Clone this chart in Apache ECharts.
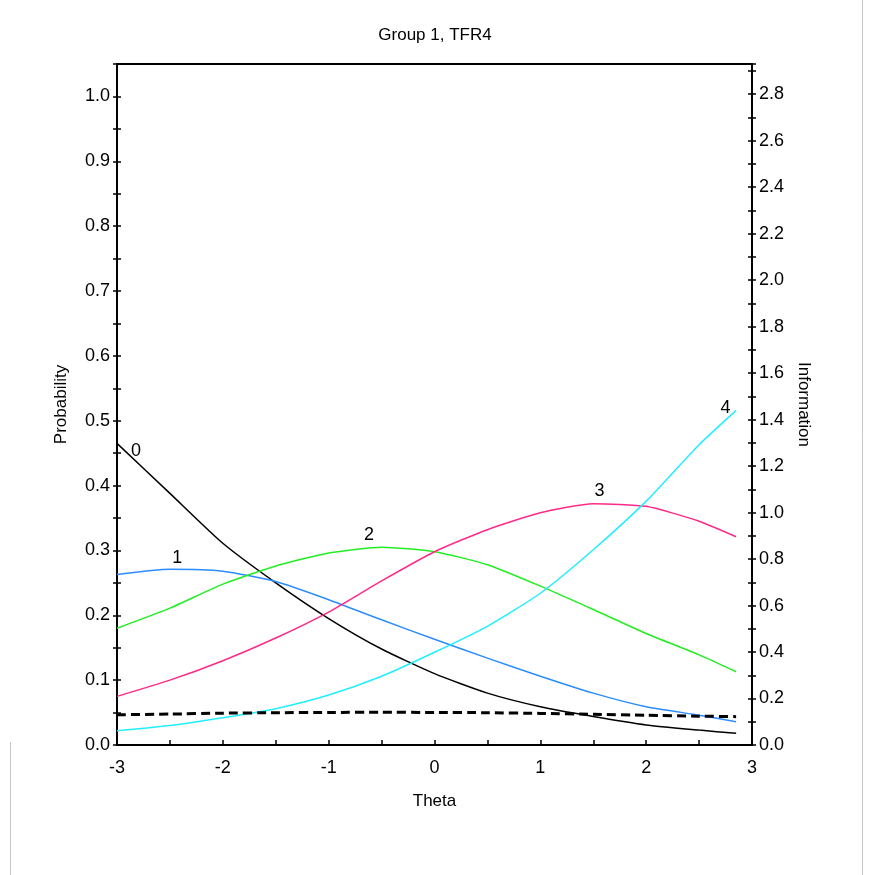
<!DOCTYPE html>
<html>
<head>
<meta charset="utf-8">
<script src="https://cdn.jsdelivr.net/npm/echarts@6/dist/echarts.min.js"></script>
<style>
  html, body { margin: 0; padding: 0; background: #fff; }
  #chart { width: 870px; height: 875px; }
</style>
</head>
<body>
<div id="chart"></div>
<script>
  // theta grid and category curves
  const theta = [-3, -2.5, -2, -1.5, -1, -0.5, 0, 0.5, 1, 1.5, 2, 2.5, 2.85];
  const cat0 = [0.465, 0.388, 0.311, 0.250, 0.195, 0.148, 0.110, 0.080, 0.059, 0.044, 0.031, 0.023, 0.018];
  const cat1 = [0.263, 0.271, 0.268, 0.252, 0.224, 0.193, 0.163, 0.134, 0.106, 0.080, 0.059, 0.046, 0.036];
  const cat2 = [0.180, 0.211, 0.248, 0.276, 0.296, 0.305, 0.298, 0.278, 0.245, 0.209, 0.172, 0.139, 0.113];
  const cat3 = [0.075, 0.100, 0.130, 0.165, 0.205, 0.253, 0.298, 0.332, 0.358, 0.372, 0.368, 0.345, 0.321];
  const cat4 = [0.022, 0.030, 0.042, 0.056, 0.077, 0.106, 0.143, 0.183, 0.234, 0.301, 0.376, 0.463, 0.516];
  const info = [0.130, 0.133, 0.137, 0.139, 0.140, 0.141, 0.140, 0.139, 0.136, 0.132, 0.128, 0.124, 0.122];

  // curve labels
  const labelNames = ['0', '1', '2', '3', '4'];
  const labelTheta = [-2.82, -2.43, -0.62, 1.56, 2.75];
  const labelProb = [0.453, 0.289, 0.324, 0.391, 0.519];

  const colors = ['#000000', '#2b8cff', '#22ee22', '#ff2a88', '#22eeff'];
  const font = 'Liberation Sans, Arial, sans-serif';

  const pairs = (ys) => theta.map((t, i) => [t, ys[i]]);

  const chart = echarts.init(document.getElementById('chart'));

  const leftLabel = (v) => {
    const k = v * 10;
    return Math.abs(k - Math.round(k)) < 1e-6 ? v.toFixed(1) : '';
  };
  const rightLabel = (v) => {
    const k = v * 5;
    return Math.abs(k - Math.round(k)) < 1e-6 ? v.toFixed(1) : '';
  };

  const tickStyle = { color: '#000', width: 1.5 };

  // extra axes only draw the inner half of the crossing ticks
  const tickOnly = (pos, max, interval) => ({
    type: 'value',
    position: pos,
    min: 0, max: max, interval: interval,
    axisLine: { show: false, onZero: false },
    axisTick: { show: true, inside: true, length: 4, lineStyle: tickStyle },
    axisLabel: { show: false },
    splitLine: { show: false }
  });

  const curves = [cat0, cat1, cat2, cat3, cat4].map((ys, i) => ({
    type: 'line',
    data: pairs(ys),
    smooth: 0.2,
    symbol: 'none',
    lineStyle: { color: colors[i], width: 1.5 },
    yAxisIndex: 0,
    z: 3
  }));

  const option = {
    animation: false,
    backgroundColor: '#fff',
    title: {
      text: 'Group 1, TFR4',
      left: 'center',
      top: 22,
      textStyle: { fontFamily: font, fontSize: 17, fontWeight: 'normal', color: '#000' }
    },
    grid: {
      left: 117, right: 118, top: 64, bottom: 130,
      show: true, borderColor: '#000', borderWidth: 2
    },
    xAxis: {
      type: 'value',
      min: -3, max: 3, interval: 0.5,
      name: 'Theta',
      nameLocation: 'middle',
      nameGap: 48,
      nameTextStyle: { fontFamily: font, fontSize: 17, color: '#000' },
      axisLine: { onZero: false, lineStyle: { color: '#000', width: 2 } },
      axisTick: { inside: true, length: 5, lineStyle: tickStyle },
      axisLabel: {
        formatter: (v) => Number.isInteger(v) ? String(v) : '',
        fontFamily: font, fontSize: 18, color: '#000', margin: 14
      },
      splitLine: { show: false }
    },
    yAxis: [
      {
        type: 'value',
        position: 'left',
        min: 0, max: 1.05, interval: 0.05,
        name: 'Probability',
        nameLocation: 'middle',
        nameGap: 47,
        nameTextStyle: { fontFamily: font, fontSize: 17, color: '#000' },
        axisLine: { show: true, onZero: false, lineStyle: { color: '#000', width: 2 } },
        axisTick: { show: true, inside: false, length: 4, lineStyle: tickStyle },
        axisLabel: { formatter: leftLabel, fontFamily: font, fontSize: 18, color: '#000', margin: 7 },
        splitLine: { show: false }
      },
      {
        type: 'value',
        position: 'right',
        min: 0, max: 2.93, interval: 0.1,
        name: 'Information',
        nameLocation: 'middle',
        nameRotate: -90,
        nameGap: 43,
        nameTextStyle: { fontFamily: font, fontSize: 17, color: '#000' },
        axisLine: { show: true, onZero: false, lineStyle: { color: '#000', width: 2 } },
        axisTick: { show: true, inside: false, length: 4, lineStyle: tickStyle },
        axisLabel: { formatter: rightLabel, fontFamily: font, fontSize: 18, color: '#000', margin: 7 },
        splitLine: { show: false }
      },
      tickOnly('left', 1.05, 0.05),
      tickOnly('right', 2.93, 0.1)
    ],
    series: curves.concat([
      {
        type: 'line',
        data: pairs(info),
        smooth: 0.2,
        symbol: 'none',
        yAxisIndex: 1,
        lineStyle: { color: '#000', width: 3, type: [9, 5] },
        z: 4
      },
      {
        type: 'scatter',
        yAxisIndex: 0,
        symbolSize: 1,
        itemStyle: { color: '#fff', opacity: 1 },
        data: labelNames.map((n, i) => ({ name: n, value: [labelTheta[i], labelProb[i]] })),
        label: {
          show: true,
          position: 'inside',
          formatter: (p) => p.name,
          fontFamily: font, fontSize: 18, color: '#000',
          textBorderWidth: 0, opacity: 1
        },
        z: 5
      }
    ]),
    graphic: [
      { type: 'line', shape: { x1: 862.5, y1: 0, x2: 862.5, y2: 875 }, style: { stroke: '#c8c8c8', lineWidth: 1 } },
      { type: 'line', shape: { x1: 10.5, y1: 742, x2: 10.5, y2: 875 }, style: { stroke: '#c8c8c8', lineWidth: 1 } }
    ]
  };

  chart.setOption(option);
</script>
</body>
</html>
